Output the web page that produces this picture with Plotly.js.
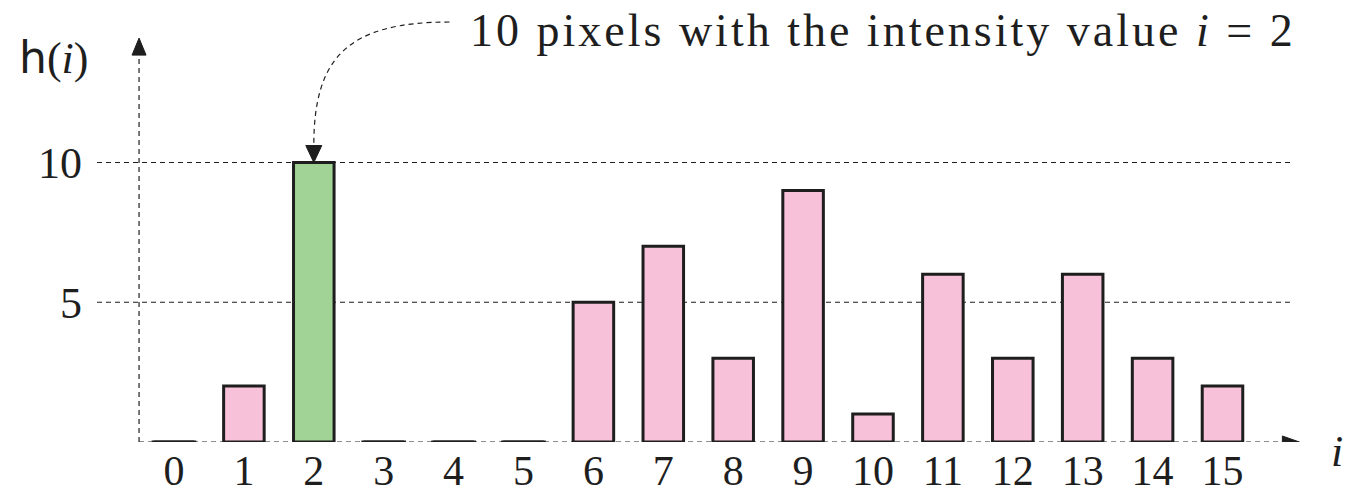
<!DOCTYPE html>
<html>
<head>
<meta charset="utf-8">
<script src="https://cdn.plot.ly/plotly-3.0.1.min.js"></script>
<style>
  html, body { margin: 0; padding: 0; background: #fff; }
  #chart { width: 1347px; height: 496px; }
</style>
</head>
<body>
<div id="chart"></div>
<script>
// Histogram h(i) of an image with 16 intensity levels
const intensity = [0, 1, 2, 3, 4, 5, 6, 7, 8, 9, 10, 11, 12, 13, 14, 15];
const counts    = [0, 2, 10, 0, 0, 0, 5, 7, 3, 9, 1, 6, 3, 6, 3, 2];
const tickLabels = ["0", "1", "2", "3", "4", "5", "6", "7", "8", "9", "10", "11", "12", "13", "14", "15"];
const yTickValues = [5, 10];
const yTickLabels = ["5", "10"];
const highlighted = 2;

// Geometry
const W = 1347, H = 496;
const margin = { l: 97, r: 37, t: 0, b: 54 };
const xRange = [-1.1016, 16.252];
const yRange = [0, 15.814];
const plotW = W - margin.l - margin.r;
const plotH = H - margin.t - margin.b;
const pxPerX = plotW / (xRange[1] - xRange[0]);
const pxPerY = plotH / (yRange[1] - yRange[0]);
const dx = px => px / pxPerX;   // pixel length -> x units
const dy = px => px / pxPerY;   // pixel length -> y units
const paperX = px => (px - margin.l) / plotW;
const paperY = px => (H - margin.b - px) / plotH;

const ink = "#1e1e1e";
const pink = "#F7C1D9";
const green = "#A1D396";
const serif = "Liberation Serif, Times New Roman, serif";
const barWidth = 0.58;
const axisDash = "5px,4px";

// Bars with a count
const bars = {
  type: "bar",
  x: intensity,
  y: counts,
  width: barWidth,
  marker: {
    color: intensity.map(i => (i === highlighted ? green : pink)),
    line: { color: ink, width: 3 }
  },
  cliponaxis: false,
  hoverinfo: "skip",
  showlegend: false
};

// Empty bins are drawn as a flat stroke on the baseline
const zx = [], zy = [];
intensity.forEach((v, k) => {
  if (counts[k] === 0) {
    zx.push(v - 0.32, v + 0.32, null);
    zy.push(0, 0, null);
  }
});
const emptyBins = {
  type: "scatter",
  mode: "lines",
  x: zx,
  y: zy,
  line: { color: ink, width: 3 },
  cliponaxis: false,
  hoverinfo: "skip",
  showlegend: false
};

// Axes with arrow tips
const axisX0 = -0.5;              // vertical axis position
const xAxisEnd = 16.1;            // tip of the horizontal arrow
const yAxisEnd = 14.45;           // tip of the vertical arrow
const headLen = 17, headHalf = 7;

const shapes = [];
yTickValues.forEach(v => {
  shapes.push({
    type: "line", xref: "x", yref: "y",
    x0: xRange[0], x1: 15.97, y0: v, y1: v,
    line: { color: ink, width: 1.2, dash: axisDash },
    layer: "below"
  });
});
shapes.push({
  type: "line", xref: "x", yref: "y",
  x0: axisX0, x1: axisX0, y0: 0, y1: yAxisEnd - dy(headLen),
  line: { color: ink, width: 1.2, dash: axisDash }, layer: "below"
});
shapes.push({
  type: "line", xref: "x", yref: "y",
  x0: axisX0, x1: xAxisEnd - dx(headLen), y0: 0, y1: 0,
  line: { color: ink, width: 1.2, dash: axisDash }, layer: "below"
});
// arrow heads
function headUp(x, yTip) {
  const yb = yTip - dy(headLen);
  return `M ${x - dx(headHalf)},${yb} L ${x},${yTip} L ${x + dx(headHalf)},${yb} Z`;
}
function headRight(xTip, y) {
  const xb = xTip - dx(headLen);
  return `M ${xb},${y + dy(headHalf - 1)} L ${xTip},${y} L ${xb},${y - dy(headHalf - 1)} Z`;
}
function headDown(x, yTip) {
  const yb = yTip + dy(headLen);
  return `M ${x - dx(headHalf + 1)},${yb} L ${x},${yTip} L ${x + dx(headHalf + 1)},${yb} Z`;
}
shapes.push({ type: "path", xref: "x", yref: "y", path: headUp(axisX0, yAxisEnd),
  fillcolor: ink, line: { color: ink, width: 1 } });
shapes.push({ type: "path", xref: "x", yref: "y", path: headRight(xAxisEnd, 0),
  fillcolor: ink, line: { color: ink, width: 1 } });

// Callout: curved dashed arrow from the note down to the highlighted bar
const noteX = 4.2, noteY = 14.74;
const tipY = counts[highlighted];
const curveStart = [noteX - dx(18), noteY + dy(8)];
const curveEnd = [highlighted, tipY + dy(headLen)];
shapes.push({
  type: "path", xref: "x", yref: "y",
  path: `M ${curveStart[0]},${curveStart[1]} C ${highlighted + 0.5},${curveStart[1]} ${highlighted},${tipY + 3.8} ${curveEnd[0]},${curveEnd[1]}`,
  line: { color: ink, width: 1.2, dash: axisDash }
});
shapes.push({ type: "path", xref: "x", yref: "y", path: headDown(highlighted, tipY),
  fillcolor: ink, line: { color: ink, width: 1 } });

const annotations = [
  {
    xref: "x", yref: "y", x: noteX, y: noteY,
    xanchor: "left", yanchor: "middle", showarrow: false,
    text: `<span style="letter-spacing:3px">${counts[highlighted]} pixels with the intensity value <i>i</i> = ${highlighted}</span>`,
    font: { family: serif, size: 46, color: ink }
  },
  {
    xref: "paper", yref: "paper", x: paperX(53), y: paperY(58),
    xanchor: "center", yanchor: "middle", showarrow: false,
    text: '<span style="font-family:DejaVu Sans">h</span>(<i>i</i>)',
    font: { family: serif, size: 44, color: ink }
  },
  {
    xref: "paper", yref: "paper", x: paperX(1337), y: paperY(452),
    xanchor: "center", yanchor: "middle", showarrow: false,
    text: "<i>i</i>",
    font: { family: serif, size: 44, color: ink }
  }
];

const layout = {
  width: W, height: H,
  margin: margin,
  paper_bgcolor: "#fff",
  plot_bgcolor: "rgba(0,0,0,0)",
  showlegend: false,
  bargap: 0,
  xaxis: {
    range: xRange, fixedrange: true,
    showgrid: false, zeroline: false, showline: false,
    tickmode: "array", tickvals: intensity, ticktext: tickLabels,
    ticks: "", ticklabelstandoff: 0,
    tickfont: { family: serif, size: 42, color: ink }
  },
  yaxis: {
    range: yRange, fixedrange: true,
    showgrid: false, zeroline: false, showline: false,
    tickmode: "array", tickvals: yTickValues, ticktext: yTickLabels,
    ticks: "", ticklabelstandoff: 14,
    tickfont: { family: serif, size: 44, color: ink }
  },
  shapes: shapes,
  annotations: annotations
};

Plotly.newPlot("chart", [bars, emptyBins], layout, { staticPlot: true, displayModeBar: false });
</script>
</body>
</html>
